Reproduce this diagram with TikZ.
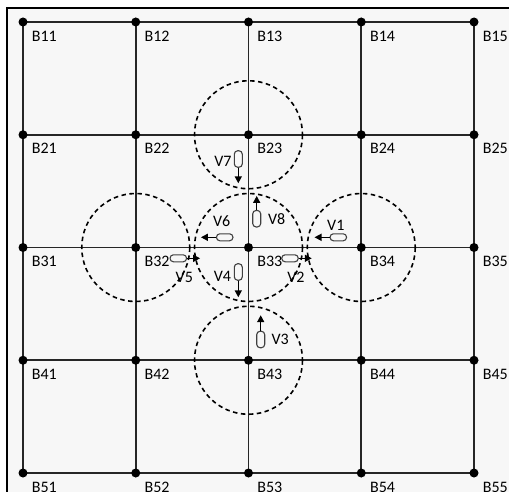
\documentclass[tikz,border=0pt]{standalone}
\usepackage{fontspec}
\setmainfont{Carlito}
\usetikzlibrary{arrows.meta, positioning}
\definecolor{cpaper}{HTML}{F7F7F7}
\definecolor{cgrid}{HTML}{262626}
\tikzset{
  every picture/.style={line width=1.6pt},
  blabel/.style={anchor=north west, inner sep=0pt, font=\fontsize{16}{18}\selectfont},
  vlabel/.style={inner sep=0pt, font=\fontsize{16}{18}\selectfont},
  gridline/.style={draw=cgrid, line width=1.6pt},
  zone/.style={draw=black, dash pattern=on 4.5pt off 3.5pt, line width=1.6pt},
  car/.style={draw=black!75, fill=cpaper, rounded corners=3.4pt, line width=1.1pt, inner sep=0pt, minimum width=16.5pt, minimum height=7pt},
  carv/.style={car, minimum width=8pt, minimum height=16.5pt},
  move/.style={-{Triangle[length=7pt, width=7pt]}, line width=1.5pt},
}

\begin{document}
\begin{tikzpicture}[x=1pt, y=-1pt]
  \useasboundingbox (0,0) rectangle (509,492);
  % paper and frame
  \fill[cpaper] (7,8) rectangle (509,492);
  \draw[line width=2pt] (7,492) -- (7,8) -- (509,8);
  % road grid
  \foreach \r in {1,...,5}
    \foreach \c in {1,...,5}
      \coordinate (B\r\c) at ({23+112.75*(\c-1)}, {22+112.75*(\r-1)});
  \foreach \r in {1,...,5}
    \draw[gridline] (B\r1) -- (B\r5);
  \foreach \c in {1,...,5}
    \draw[gridline] (B1\c) -- (B5\c);
  \foreach \r in {1,...,5}
    \foreach \c in {1,...,5} {
      \fill (B\r\c) circle[radius=4.5];
      \node[blabel] (l\r\c) at ([shift={(8,8)}]B\r\c) {B\r\c};
    }
  % coverage zones
  \foreach \z in {B23, B32, B33, B34, B43}
    \draw[zone] (\z) circle[radius=54];
  % vehicles
  \node[carv] (v7) at (238.3,159) {};
  \node[carv] (v8) at (256.7,218.7) {};
  \node[car] (v6) at (224.7,237.3) {};
  \node[car] (v1) at (338.3,237.3) {};
  \node[car] (v5) at (178.3,258.3) {};
  \node[car] (v2) at (290,258.3) {};
  \node[carv] (v4) at (238.3,272) {};
  \node[carv] (v3) at (260.7,339.5) {};
  \draw[move] (v7.south) -- ++(0,15.5);
  \draw[move] (v8.north) -- ++(0,-14);
  \draw[move] (v6.west) -- ++(-15,0);
  \draw[move] (v1.west) -- ++(-15,0);
  \draw[move] (v5.east) -- ++(13,0);
  \draw[move] (v2.east) -- ++(13,0);
  \draw[move] (v4.south) -- ++(0,16.5);
  \draw[move] (v3.north) -- ++(0,-15.5);
  \node[vlabel, left=1.5pt of v7, yshift=-2.5pt] (t7) {V7};
  \node[vlabel, right=6pt of v8] (t8) {V8};
  \node[vlabel, above=6pt of v6, xshift=-3pt] (t6) {V6};
  \node[vlabel, above=2pt of v1, xshift=-2.5pt] (t1) {V1};
  \node[vlabel, below=9pt of v5, xshift=6pt] (t5) {V5};
  \node[vlabel, below=9pt of v2, xshift=6pt] (t2) {V2};
  \node[vlabel, left=2pt of v4, yshift=-4.5pt] (t4) {V4};
  \node[vlabel, right=5.5pt of v3] (t3) {V3};
\end{tikzpicture}
\end{document}
